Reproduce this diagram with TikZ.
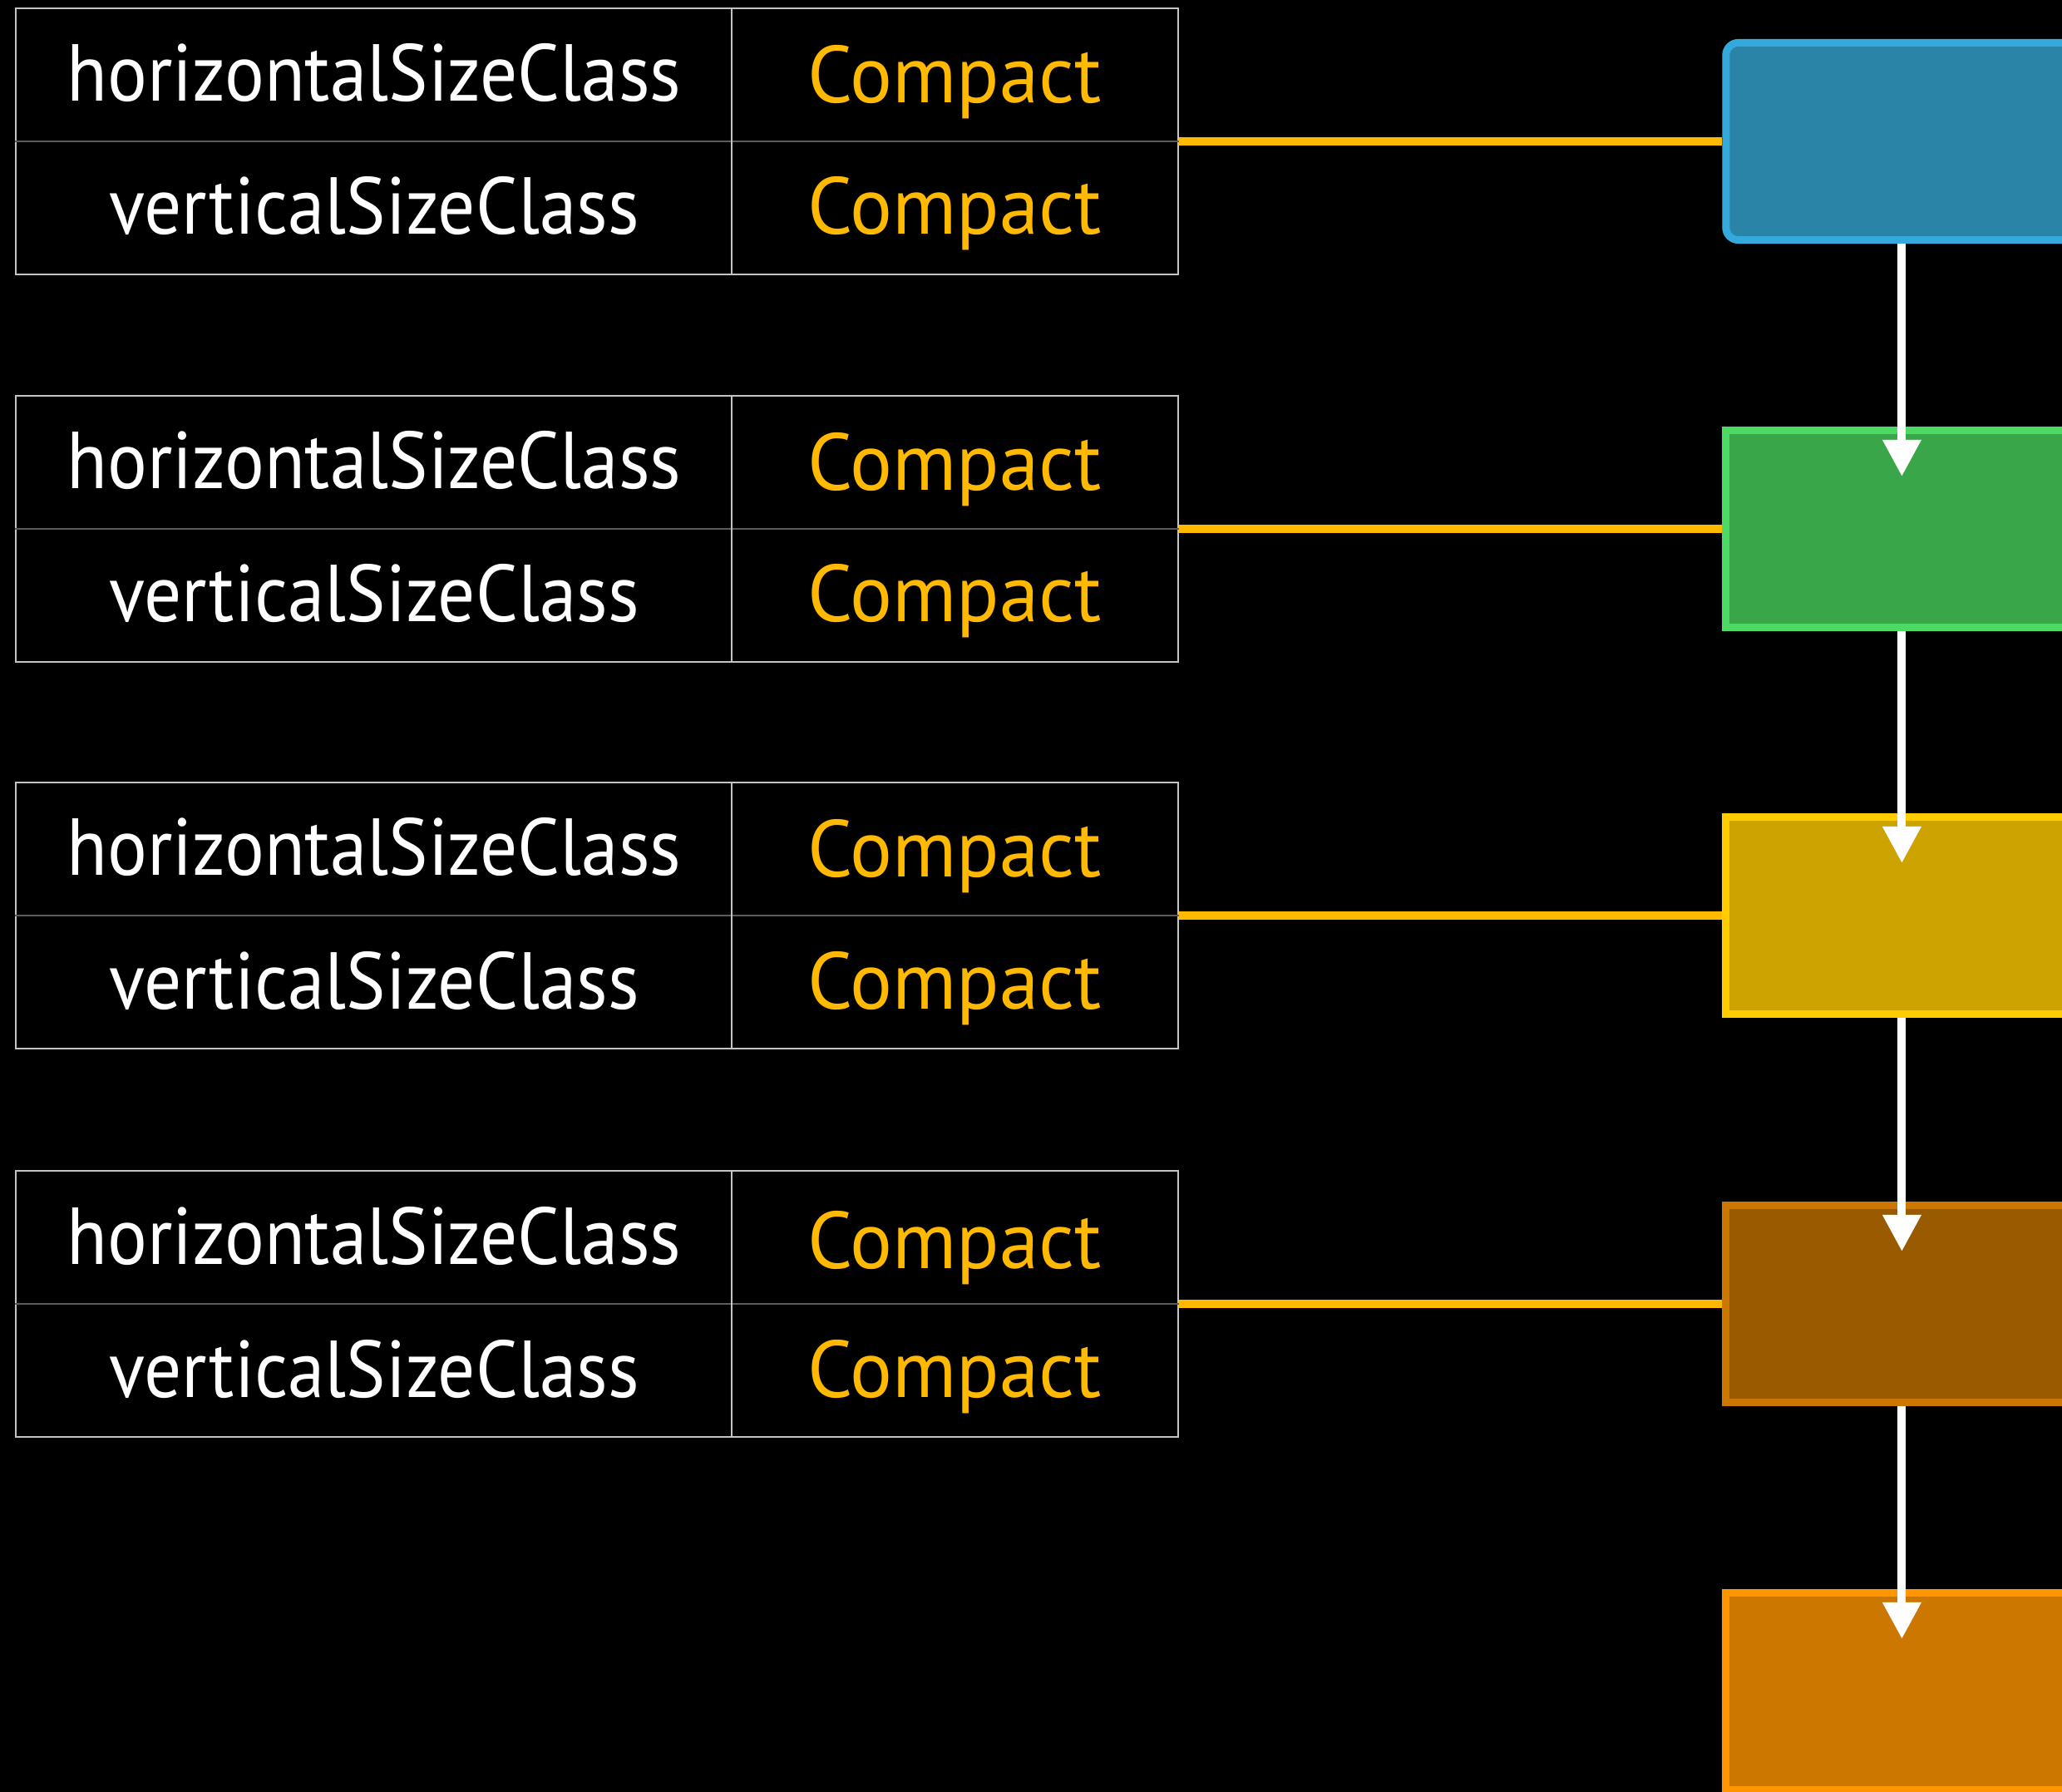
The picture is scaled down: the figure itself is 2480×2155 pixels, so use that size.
\documentclass[tikz,border=0pt]{standalone}
\usepackage{fontspec}
\setmainfont{PT Sans}[FakeStretch=0.92]
\newfontfamily\valfont{PT Sans}[FakeStretch=0.98]
\usetikzlibrary{arrows.meta}
\definecolor{gold}{HTML}{FFB900}
\definecolor{gridlt}{HTML}{C4C4C4}
\definecolor{griddk}{HTML}{5C5C5C}
\definecolor{bluebd}{HTML}{34AADC}
\definecolor{bluefl}{HTML}{2A84A8}
\definecolor{greenbd}{HTML}{4CD964}
\definecolor{greenfl}{HTML}{3AA64A}
\definecolor{yellowbd}{HTML}{FFCC00}
\definecolor{yellowfl}{HTML}{CCA300}
\definecolor{brownbd}{HTML}{CC7700}
\definecolor{brownfl}{HTML}{9A5A00}
\definecolor{orangebd}{HTML}{FF9500}
\definecolor{orangefl}{HTML}{CC7700}

\begin{document}
\begin{tikzpicture}[x=0.01cm,y=-0.01cm,
  tbl/.style={rectangle,draw=gridlt,line width=0.02cm,minimum width=13.97cm,minimum height=3.2cm,inner sep=0pt},
  midline/.style={draw=griddk,line width=0.02cm},
  divline/.style={draw=gridlt,line width=0.02cm},
  key/.style={anchor=base,text=white,inner sep=0pt,font=\fontsize{27.6}{33}\selectfont},
  val/.style={anchor=base,text=gold,inner sep=0pt,font=\valfont\fontsize{27.6}{33}\selectfont},
  box/.style={rectangle,line width=0.09cm,minimum width=7.2cm,minimum height=2.37cm,inner sep=0pt},
  link/.style={draw=gold,line width=0.1cm},
  flow/.style={draw=white,line width=0.1cm,-{Triangle[length=0.44cm,width=0.44cm]}}]

\useasboundingbox (0,0) rectangle (2480,2155);
\clip (0,0) rectangle (2480,2155);
\fill[black] (0,0) rectangle (2480,2155);

% tables
\node[tbl] (T1) at (718,170) {};
\draw[midline] (T1.west) -- (T1.east);
\draw[divline] (880,10) -- (880,330);
\node[key] (hk1) at (450,122) {horizontalSizeClass};
\node[key] (vk1) at (450,282) {verticalSizeClass};
\node[val] (hv1) at (1148,124) {Compact};
\node[val] (vv1) at (1148,282) {Compact};

\node[tbl] (T2) at (718,636) {};
\draw[midline] (T2.west) -- (T2.east);
\draw[divline] (880,476) -- (880,796);
\node[key] (hk2) at (450,588) {horizontalSizeClass};
\node[key] (vk2) at (450,748) {verticalSizeClass};
\node[val] (hv2) at (1148,590) {Compact};
\node[val] (vv2) at (1148,748) {Compact};

\node[tbl] (T3) at (718,1101) {};
\draw[midline] (T3.west) -- (T3.east);
\draw[divline] (880,941) -- (880,1261);
\node[key] (hk3) at (450,1053) {horizontalSizeClass};
\node[key] (vk3) at (450,1213) {verticalSizeClass};
\node[val] (hv3) at (1148,1055) {Compact};
\node[val] (vv3) at (1148,1213) {Compact};

\node[tbl] (T4) at (718,1568) {};
\draw[midline] (T4.west) -- (T4.east);
\draw[divline] (880,1408) -- (880,1728);
\node[key] (hk4) at (450,1520) {horizontalSizeClass};
\node[key] (vk4) at (450,1680) {verticalSizeClass};
\node[val] (hv4) at (1148,1525) {Compact};
\node[val] (vv4) at (1148,1680) {Compact};

% boxes
\node[box,draw=bluebd,fill=bluefl,rounded corners=0.15cm] (B1) at (2436,170) {};
\node[box,draw=greenbd,fill=greenfl] (B2) at (2436,636) {};
\node[box,draw=yellowbd,fill=yellowfl] (B3) at (2436,1101) {};
\node[box,draw=brownbd,fill=brownfl] (B4) at (2436,1568) {};
\node[box,draw=orangebd,fill=orangefl] (B5) at (2436,2034) {};

% links
\draw[link] (T1.east) -- (B1.west);
\draw[link] (T2.east) -- (B2.west);
\draw[link] (T3.east) -- (B3.west);
\draw[link] (T4.east) -- (B4.west);

\draw[flow] ([xshift=2.16cm]B1.south west) -- ([xshift=2.16cm,yshift=-0.6cm]B2.north west);
\draw[flow] ([xshift=2.16cm]B2.south west) -- ([xshift=2.16cm,yshift=-0.6cm]B3.north west);
\draw[flow] ([xshift=2.16cm]B3.south west) -- ([xshift=2.16cm,yshift=-0.6cm]B4.north west);
\draw[flow] ([xshift=2.16cm]B4.south west) -- ([xshift=2.16cm,yshift=-0.6cm]B5.north west);

\end{tikzpicture}
\end{document}
